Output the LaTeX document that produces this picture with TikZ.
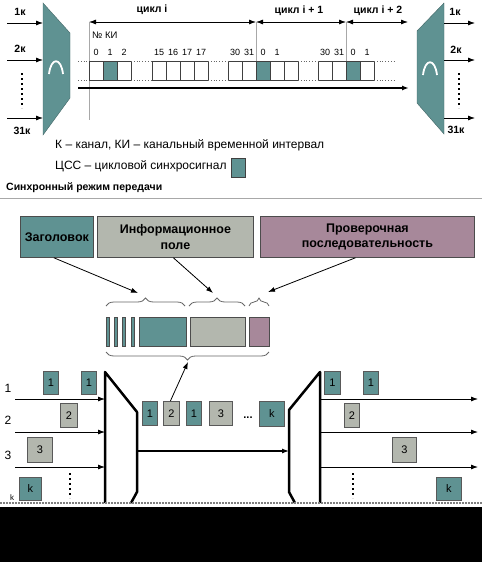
\documentclass[tikz,border=0pt]{standalone}
\usepackage{fontspec}
\setmainfont{Liberation Sans}
\usetikzlibrary{arrows.meta,decorations.pathreplacing,positioning}
\definecolor{cssteal}{HTML}{5F9292}
\definecolor{infogray}{HTML}{B3B7AE}
\definecolor{chkmauve}{HTML}{A7889A}
\definecolor{rulegray}{HTML}{A8A8A8}
\newcommand{\pt}[1]{\fontsize{#1}{#1}\selectfont}
\tikzset{
  arr/.style={-{Latex[length=7pt,width=5pt]}},
  cyc/.style={{Latex[length=7pt,width=5pt]}-{Latex[length=7pt,width=5pt]}},
  cell/.style={draw=black!75, minimum width=14pt, minimum height=19pt, inner sep=0pt, anchor=north west},
  csscell/.style={cell, fill=cssteal},
  num/.style={font=\pt{9}, inner sep=0pt},
  chan/.style={font=\bfseries\pt{10.5}, inner sep=0pt},
  gap/.style={dotted, line width=0.8pt, black!60},
  vdots/.style={line width=2pt, dash pattern=on 2pt off 3pt},
  guide/.style={rulegray, line width=0.8pt},
  field/.style={draw=black!70, line width=0.8pt, inner sep=0pt, anchor=north west, font=\bfseries\pt{12.5}, align=center},
  bar/.style={draw=black!70, fill=cssteal, line width=0.6pt, inner sep=0pt, minimum width=3pt, minimum height=29pt, anchor=north west},
  pkt/.style={draw=black!65, line width=0.8pt, inner sep=0pt, anchor=north west, font=\pt{11}},
  tealpkt/.style={pkt, fill=cssteal},
  graypkt/.style={pkt, fill=infogray},
  bracetop/.style={decorate, decoration={brace, amplitude=8pt}, black!60, line width=0.8pt},
  mux/.style={line width=2.5pt, line join=round},
}
\begin{document}
\begin{tikzpicture}[x=1pt, y=-1pt]
  \useasboundingbox (0,0) rectangle (482,562);

  % --- synchronous transmission, left multiplexer
  \draw[fill=cssteal, draw=cssteal!70!black] (43,3) coordinate (lmA) -- (70,33) -- (70,98) -- (43,135) coordinate (lmD) -- cycle;
  \draw[white, line width=1.8pt] (49,74) .. controls (51,57) and (61,57) .. (63,74);
  \node[chan] (in1) at (20,12) {1к};
  \node[chan] (in2) at (20,49) {2к};
  \node[chan] (in31) at (22,131) {31к};
  \coordinate (a1) at (7,23);
  \coordinate (a2) at (7,60);
  \coordinate (a31) at (7,118);
  \draw[arr, line width=0.8pt] (a1) -- (a1 -| lmA);
  \draw[arr, line width=0.8pt] (a2) -- (a2 -| lmA);
  \draw[arr, line width=0.8pt] (a31) -- (a31 -| lmA);
  \coordinate (ld1) at (22,73);
  \coordinate (ld2) at (22,108);
  \draw[vdots] (ld1) -- (ld2);

  % --- right demultiplexer
  \draw[fill=cssteal, draw=cssteal!70!black] (444,3) coordinate (rmA) -- (417,31) -- (417,103) -- (444,134) -- cycle;
  \draw[white, line width=1.8pt] (423,75) .. controls (425,58) and (435,58) .. (437,75);
  \node[chan] (out1) at (455,12) {1к};
  \node[chan] (out2) at (456,50) {2к};
  \node[chan] (out31) at (456,130) {31к};
  \coordinate (b1) at (475,23);
  \coordinate (b2) at (475,60);
  \coordinate (b31) at (475,118);
  \draw[arr, line width=0.8pt] (b1 -| rmA) -- (b1);
  \draw[arr, line width=0.8pt] (b2 -| rmA) -- (b2);
  \draw[arr, line width=0.8pt] (b31 -| rmA) -- (b31);
  \coordinate (rd1) at (459,73);
  \coordinate (rd2) at (459,108);
  \draw[vdots] (rd1) -- (rd2);

  % --- cycles
  \coordinate (cy0) at (89,22);
  \coordinate (cy1) at (256,22);
  \coordinate (cy2) at (346,22);
  \coordinate (cy3) at (408,22);
  \draw[cyc, line width=0.8pt] (cy0) -- (cy1);
  \draw[cyc, line width=0.8pt] (cy1) -- (cy2);
  \draw[cyc, line width=0.8pt] (cy2) -- (cy3);
  \node[font=\bfseries\pt{10.5}] (cyci) at (152,10) {цикл i};
  \node[font=\bfseries\pt{10.5}] (cycj) at (299,11) {цикл i + 1};
  \node[font=\bfseries\pt{10.5}] (cyck) at (378,11) {цикл i + 2};
  \draw[guide] (cy0) -- (89,120);
  \draw[guide] (cy1) -- (256,61);
  \draw[guide] (cy2) -- (346,61);
  \node[font=\pt{9.5}, anchor=west, inner sep=0pt] (nki) at (92,35) {№ КИ};

  % time slots
  \foreach \x/\n/\f in {89/0/cell, 103/1/csscell, 117/2/cell,
                         152/15/cell, 166/16/cell, 180/17/cell, 194/17/cell,
                         228/30/cell, 242/31/cell, 256/0/csscell, 270/1/cell, 284//cell,
                         318/30/cell, 332/31/cell, 346/0/csscell, 360/1/cell} {
    \node[\f] (ki\x) at (\x,61) {};
    \node[num] at ([yshift=9pt]ki\x.north) {\n};
  }
  \foreach \a/\b in {78/89, 131/152, 208/228, 298/318, 374/395} {
    \draw[gap] (\a,61) -- (\b,61);
    \draw[gap] (\a,80) -- (\b,80);
  }
  \coordinate (tl0) at (78,88);
  \coordinate (tl1) at (409,88);
  \draw[arr, line width=2pt] (tl0) -- (tl1);

  % legend
  \node[font=\pt{12}, anchor=west, inner sep=0pt] (leg1) at (55,145) {К – канал, КИ – канальный временной интервал};
  \node[font=\pt{12}, anchor=west, inner sep=0pt] (leg2) at (55,166) {ЦСС – цикловой синхросигнал};
  \node[cell, fill=cssteal, minimum width=14pt, minimum height=19pt] (legbox) at (231,158) {};

  \node[font=\bfseries\pt{10.5}, anchor=west, inner sep=0pt] (mode) at (6,188) {Синхронный режим передачи};
  \draw[rulegray, line width=1pt] (0,198) -- (482,198);

  % --- packet structure
  \node[field, fill=cssteal, minimum width=73pt, minimum height=41pt] (hdr) at (20,216) {Заголовок};
  \node[field, fill=infogray, minimum width=156pt, minimum height=41pt] (info) at (97,216) {Информационное\\[3pt]поле};
  \node[field, fill=chkmauve, minimum width=214pt, minimum height=41pt] (chk) at (260,216) {Проверочная\\[3pt]последовательность};

  \foreach \x in {106,114,122,131} {
    \node[bar] (flag\x) at (\x,317) {};
  }
  \node[bar, minimum width=47pt] (fhdr) at (139,317) {};
  \node[bar, fill=infogray, minimum width=55pt] (finfo) at (190,317) {};
  \node[bar, fill=chkmauve, minimum width=20pt] (fchk) at (249,317) {};

  \draw[bracetop] (106,306) -- (185,306);
  \draw[bracetop] (189,306) -- (245,306);
  \draw[bracetop] (249,306) -- (269,306);
  \draw[bracetop] (269,352) -- (106,352);
  \coordinate (tipH) at (138,293);
  \coordinate (tipI) at (213,293);
  \coordinate (tipC) at (268,292);
  \coordinate (tipF) at (188,362);
  \draw[arr, line width=0.8pt] ([xshift=-3pt]hdr.south) -- (tipH);
  \draw[arr, line width=0.8pt] ([xshift=-2pt]info.south) -- (tipI);
  \draw[arr, line width=0.8pt] ([xshift=-12pt]chk.south) -- (tipC);

  % --- multiplexing of packets
  \draw[mux] (105,503) -- (105,372) -- (137,412) -- (137,492) -- (131,503);
  \draw[mux] (320,503) -- (320,372) -- (289,410) -- (289,492) -- (295,503);
  \coordinate (mx) at (137,451);
  \coordinate (dx) at (289,451);
  \draw[arr, line width=1.2pt] (mx) -- (dx);

  \foreach \y/\t [count=\i] in {388/1, 420/2, 455/3} {
    \node[font=\pt{12}] (src\i) at (8,\y) {\t};
  }
  \node[font=\pt{8}] (srck) at (12,498) {k};
  \foreach \y [count=\i] in {399, 432, 467} {
    \coordinate (s\i) at (15,\y);
    \coordinate (t\i) at (478,\y);
    \draw[arr, line width=0.8pt] (s\i) -- (105,\y);
    \draw[arr, line width=0.8pt] (320,\y) -- (t\i);
  }

  % source packets
  \node[tealpkt, minimum width=15pt, minimum height=23pt] (p1a) at (43,371) {1};
  \node[tealpkt, minimum width=15pt, minimum height=23pt] (p1b) at (81,371) {1};
  \node[graypkt, minimum width=17pt, minimum height=24pt] (p2) at (60,403) {2};
  \node[graypkt, minimum width=25pt, minimum height=25pt] (p3) at (27,437) {3};
  \node[tealpkt, minimum width=22pt, minimum height=23pt] (pk) at (19,477) {k};
  \draw[vdots] (70,473) -- (70,498);

  % multiplexed stream
  \node[tealpkt, minimum width=15pt, minimum height=24pt] (m1) at (142,401) {1};
  \node[graypkt, minimum width=16pt, minimum height=24pt] (m2) at (163,401) {2};
  \node[tealpkt, minimum width=15pt, minimum height=24pt] (m3) at (186,401) {1};
  \node[graypkt, minimum width=23pt, minimum height=24pt] (m4) at (209,401) {3};
  \node[font=\bfseries\pt{11}, inner sep=0pt] (mdots) at (248,418) {...};
  \node[tealpkt, minimum width=25pt, minimum height=25pt] (mk) at (259,401) {k};
  \draw[arr, line width=0.8pt] ([xshift=-1pt]m2.north) -- (tipF);

  % delivered packets
  \node[tealpkt, minimum width=16pt, minimum height=23pt] (q1a) at (324,371) {1};
  \node[tealpkt, minimum width=15pt, minimum height=23pt] (q1b) at (363,371) {1};
  \node[graypkt, minimum width=15pt, minimum height=24pt] (q2) at (344,403) {2};
  \node[graypkt, minimum width=24pt, minimum height=25pt] (q3) at (392,437) {3};
  \node[tealpkt, minimum width=25pt, minimum height=23pt] (qk) at (436,477) {k};
  \draw[vdots] (353,473) -- (353,498);

  % bottom edge
  \draw[black!50, line width=2pt, dash pattern=on 1.5pt off 1.5pt] (0,503) -- (482,503);
  \fill[black] (0,507) rectangle (482,562);
\end{tikzpicture}
\end{document}
